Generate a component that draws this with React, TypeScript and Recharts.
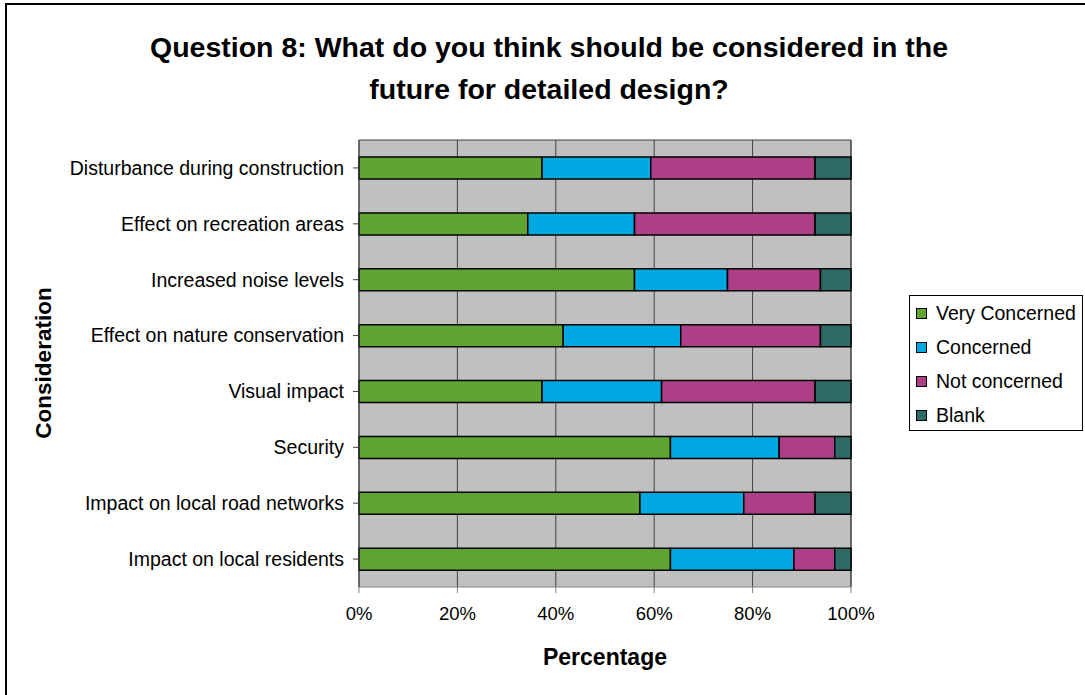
import React from 'react';
import {
  BarChart,
  Bar,
  XAxis,
  YAxis,
  CartesianGrid,
} from 'recharts';

const categories = [
  'Disturbance during construction',
  'Effect on recreation areas',
  'Increased noise levels',
  'Effect on nature conservation',
  'Visual impact',
  'Security',
  'Impact on local road networks',
  'Impact on local residents',
];

const veryConcerned = [37.2, 34.3, 56.0, 41.5, 37.2, 63.3, 57.1, 63.3];
const concerned = [22.1, 21.7, 18.9, 23.9, 24.3, 22.1, 21.1, 25.1];
const notConcerned = [33.4, 36.7, 18.9, 28.4, 31.2, 11.3, 14.5, 8.3];
const blank = [7.3, 7.3, 6.2, 6.2, 7.3, 3.3, 7.3, 3.3];

const xTicks = [0, 20, 40, 60, 80, 100];

const series = [
  { key: 'veryConcerned', name: 'Very Concerned', color: '#5ea532' },
  { key: 'concerned', name: 'Concerned', color: '#00a8e2' },
  { key: 'notConcerned', name: 'Not concerned', color: '#ac3f86' },
  { key: 'blank', name: 'Blank', color: '#2e6b66' },
];

const data = categories.map((name, i) => ({
  name,
  veryConcerned: veryConcerned[i],
  concerned: concerned[i],
  notConcerned: notConcerned[i],
  blank: blank[i],
}));

const font = '"Liberation Sans", Arial, sans-serif';

// legend drawn as a plain box so it doesn't eat into the plot width
const LegendBox = () => (
  <div
    style={{
      position: 'absolute',
      left: 909,
      top: 295,
      border: '1px solid #000',
      width: 174,
      height: 136,
      boxSizing: 'border-box',
      fontFamily: font,
      fontSize: 19.5,
      color: '#000',
    }}
  >
    {series.map((s) => (
      <div key={s.key} style={{ display: 'flex', alignItems: 'center', height: 34 }}>
        <span
          style={{
            display: 'inline-block',
            width: 9,
            height: 9,
            background: s.color,
            border: '1px solid #000',
            marginLeft: 6,
            marginRight: 9,
          }}
        />
        <span>{s.name}</span>
      </div>
    ))}
  </div>
);

export default function App() {
  return (
    <div
      style={{
        position: 'absolute',
        left: 0,
        top: 0,
        width: 1085,
        height: 695,
        overflow: 'hidden',
        background: '#fff',
        fontFamily: font,
      }}
    >
      <div
        style={{
          position: 'absolute',
          left: 5,
          top: 3,
          width: 1200,
          height: 800,
          borderLeft: '2px solid #000',
          borderTop: '2px solid #000',
        }}
      />
      <div
        style={{
          position: 'absolute',
          left: 49,
          width: 1000,
          top: 26,
          textAlign: 'center',
          fontWeight: 'bold',
          fontSize: 28.5,
          lineHeight: '42px',
        }}
      >
        Question 8: What do you think should be considered in the
        <br />
        future for detailed design?
      </div>
      <div
        style={{
          position: 'absolute',
          left: 44,
          top: 363,
          transform: 'translate(-50%, -50%) rotate(-90deg)',
          fontWeight: 'bold',
          fontSize: 22.5,
          whiteSpace: 'nowrap',
        }}
      >
        Consideration
      </div>
      <div
        style={{
          position: 'absolute',
          left: 605,
          top: 657,
          transform: 'translate(-50%, -50%)',
          fontWeight: 'bold',
          fontSize: 23,
          whiteSpace: 'nowrap',
        }}
      >
        Percentage
      </div>
      <BarChart
        width={1085}
        height={695}
        data={data}
        layout="vertical"
        margin={{ top: 140, right: 234, bottom: 0, left: 9 }}
        style={{ position: 'absolute', left: 0, top: 0 }}
      >
        <CartesianGrid
          horizontalPoints={[140]}
          fill="#c0c0c0"
          stroke="#404040"
          strokeWidth={1}
        />
        <XAxis
          type="number"
          domain={[0, 100]}
          ticks={xTicks}
          tickFormatter={(v) => `${v}%`}
          height={108}
          tickSize={6}
          tickMargin={14}
          stroke="#808080"
          tick={{ fill: '#000', fontSize: 18.5, fontFamily: font }}
        />
        <YAxis
          type="category"
          dataKey="name"
          width={350}
          tickSize={6}
          tickMargin={9}
          stroke="#404040"
          interval={0}
          tick={{ fill: '#000', fontSize: 19.5, fontFamily: font }}
        />
        {series.map((s) => (
          <Bar
            key={s.key}
            dataKey={s.key}
            name={s.name}
            stackId="a"
            fill={s.color}
            stroke="#000"
            strokeWidth={1.5}
            barSize={22}
            isAnimationActive={false}
          />
        ))}
      </BarChart>
      <LegendBox />
    </div>
  );
}
